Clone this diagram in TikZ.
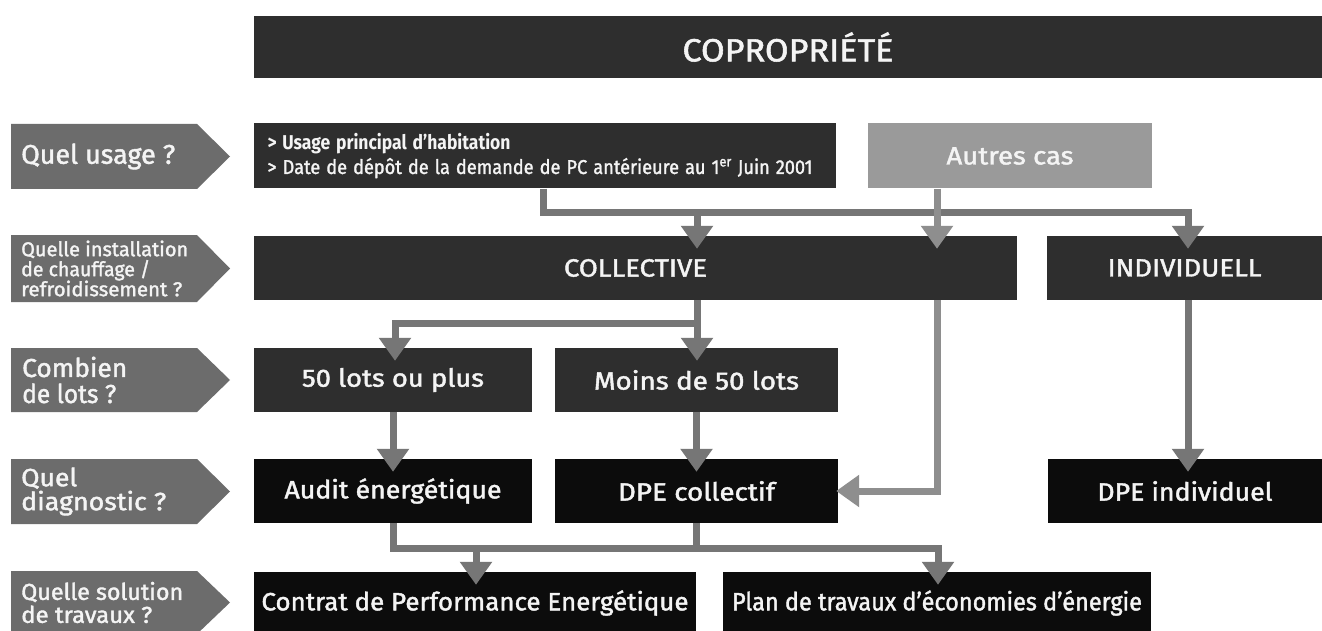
\documentclass[tikz,border=0pt]{standalone}
\usepackage{graphicx}
\usepackage{fontspec}
\setmainfont{Fira Sans}[FakeBold=1.6]
\newfontfamily\boldface{Fira Sans Bold}
\usetikzlibrary{arrows.meta,calc}
\definecolor{boxdark}{HTML}{2E2E2E}
\definecolor{boxblack}{HTML}{0C0C0C}
\definecolor{labelc}{HTML}{6C6C6C}
\definecolor{autresc}{HTML}{9A9A9A}
\definecolor{connc}{HTML}{767676}
\definecolor{connl}{HTML}{8E8E8E}
\definecolor{txt}{HTML}{F4F4F4}
\newcommand{\fitw}[2]{\resizebox{#1}{\height}{#2}}
\begin{document}
\begin{tikzpicture}[x=1pt,y=-1pt,
  box/.style={rectangle, inner sep=0pt, text=txt, minimum height=64pt, font=\fontsize{25}{27}\selectfont},
  dark/.style={box, fill=boxdark},
  blk/.style={box, fill=boxblack},
  lblshape/.style={fill=labelc},
  lbl/.style={anchor=west, inner sep=0pt, text=txt, align=left},
  conn/.style={draw=connc, line width=7pt},
  connlight/.style={draw=connl, line width=7pt},
  arr/.style={conn, -{Triangle[width=31pt,length=23pt]}, shorten >=-13pt},
  arrlight/.style={connlight, -{Triangle[width=31pt,length=23pt]}, shorten >=-13pt}
]
\useasboundingbox (0,0) rectangle (1322,631);
\fill[white] (0,0) rectangle (1322,631);

% title
\node[dark, minimum width=1068pt, minimum height=62pt, font=\fontsize{32}{34}\selectfont] (title) at (788,47) {\fitw{211pt}{COPROPRIÉTÉ}};

% labels
\fill[lblshape] (11,124) -- (197,124) -- (230,156.5) -- (197,189) -- (11,189) -- cycle;
\node[lbl, font=\fontsize{27}{28}\selectfont] (l1) at (21,156.5) {\fitw{154pt}{Quel usage ?}};
\fill[lblshape] (11,235) -- (197,235) -- (230,268.5) -- (197,302) -- (11,302) -- cycle;
\node[lbl, font=\fontsize{20}{20}\selectfont] (l2) at (21,268.5) {\fitw{167pt}{Quelle installation}\\\fitw{129pt}{de chauffage /}\\\fitw{161pt}{refroidissement ?}};
\fill[lblshape] (11,348) -- (197,348) -- (230,380) -- (197,412) -- (11,412) -- cycle;
\node[lbl, font=\fontsize{26}{26}\selectfont] (l3) at (22,380) {\fitw{105pt}{Combien}\\\fitw{94pt}{de lots ?}};
\fill[lblshape] (11,459) -- (197,459) -- (230,491.5) -- (197,524) -- (11,524) -- cycle;
\node[lbl, font=\fontsize{25}{24}\selectfont] (l4) at (21,491.5) {\fitw{56pt}{Quel}\\\fitw{145pt}{diagnostic ?}};
\fill[lblshape] (11,571) -- (197,571) -- (230,602.5) -- (197,634) -- (11,634) -- cycle;
\node[lbl, font=\fontsize{23}{23}\selectfont] (l5) at (21,602.5) {\fitw{162pt}{Quelle solution}\\\fitw{131pt}{de travaux ?}};

% row 1
\node[dark, minimum width=582pt, minimum height=65pt, text width=555pt, inner xsep=13.5pt, align=left, font=\fontsize{20}{24}\selectfont] (usage) at (545,156) {\fitw{243pt}{\boldface > Usage principal d’habitation}\\\fitw{545pt}{> Date de dépôt de la demande de PC antérieure au 1\textsuperscript{er} Juin 2001}};
\node[box, fill=autresc, minimum width=284pt, minimum height=65pt] (autres) at (1010,156) {\fitw{127pt}{Autres cas}};

% row 2
\node[dark, minimum width=763pt] (collective) at (635.5,268) {\fitw{143pt}{COLLECTIVE}};
\node[dark, minimum width=275pt] (individ) at (1184.5,268) {\fitw{154pt}{INDIVIDUELL}};

% row 3
\node[dark, minimum width=278pt] (lots50) at (393,380) {\fitw{182pt}{50 lots ou plus}};
\node[dark, minimum width=283pt] (moins) at (696.5,380) {\fitw{205pt}{Moins de 50 lots}};

% row 4
\node[blk, minimum width=278pt] (audit) at (393,491) {\fitw{217pt}{Audit énergétique}};
\node[blk, minimum width=283pt] (dpec) at (696.5,491) {\fitw{157pt}{DPE collectif}};
\node[blk, minimum width=274pt] (dpei) at (1185,491) {\fitw{175pt}{DPE individuel}};

% row 5
\node[blk, minimum width=442pt, minimum height=62pt] (contrat) at (475,603) {\fitw{427pt}{Contrat de Performance Energétique}};
\node[blk, minimum width=428pt, minimum height=62pt] (plan) at (937,603) {\fitw{410pt}{Plan de travaux d’économies d’énergie}};

% connectors
\coordinate (u1) at ([xshift=-2pt]usage.south);
\coordinate (ix) at (1188,213);
\coordinate (jc) at (697,213);
\draw[arr] (u1) |- (ix) -- (ix |- individ.north);
\draw[arr] (jc) -- (jc |- collective.north);

\coordinate (a1) at ([xshift=-73pt]autres.south);
\draw[arrlight] (a1) -- (a1 |- collective.north);
\draw[arrlight, shorten >=-2pt] (a1 |- collective.south) |- (dpec.east);

\coordinate (jl) at (697,323);
\draw[arr] (collective.south -| jl) -- (jl |- moins.north);
\draw[arr] (jl) -| ([xshift=2pt]lots50.north);

\draw[arr] (lots50.south) -- (audit.north);
\draw[arr] (moins.south) -- (dpec.north);
\draw[arr] (ix |- individ.south) -- (ix |- dpei.north);

\coordinate (jb) at (938,548);
\coordinate (jt) at (476,548);
\draw[arr] (audit.south) |- (jb) -- (jb |- plan.north);
\draw[conn] (dpec.south) -- (dpec.south |- jb);
\draw[arr] (jt) -- (jt |- contrat.north);
\end{tikzpicture}
\end{document}
